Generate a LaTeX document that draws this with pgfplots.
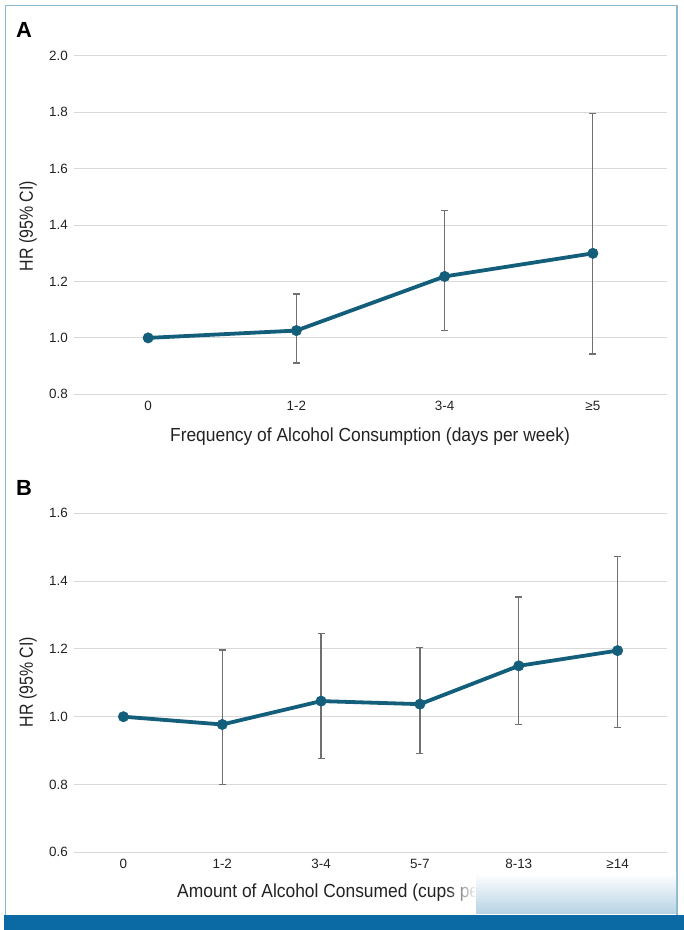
\documentclass[border=0pt]{standalone}
\usepackage{fontspec}
\setmainfont{Liberation Sans}
\newfontfamily\condfont{Liberation Sans}[FakeStretch=0.92]
\newfontfamily\ylabfont{Liberation Sans}[FakeStretch=0.84]
\usepackage{pgfplots}
\usepackage{pgfplotstable}
\pgfplotsset{compat=1.18}
\usetikzlibrary{fadings}

\definecolor{linec}{HTML}{135E7A}
\definecolor{errc}{HTML}{707070}
\definecolor{gridc}{HTML}{D9D9D9}
\definecolor{framec}{HTML}{8DB8CF}
\definecolor{barc}{HTML}{0B6AA3}
\definecolor{textc}{HTML}{222222}

% panel A: frequency (days per week)
\pgfplotstableread{
x y     lo    hi
0 1.000 1.000 1.000
1 1.026 0.911 1.156
2 1.218 1.025 1.451
3 1.300 0.943 1.797
}\freqdata

% panel B: amount (cups per week)
\pgfplotstableread{
x y     lo    hi
0 1.000 1.000 1.000
1 0.977 0.800 1.197
2 1.046 0.876 1.245
3 1.037 0.891 1.205
4 1.150 0.977 1.353
5 1.195 0.969 1.473
}\amountdata

\pgfplotsset{
  hrstyle/.style={
    scale only axis,
    width=593bp,
    axis line style={draw=none},
    tick style={draw=none},
    ymajorgrids,
    grid style={gridc, line width=1bp},
    ytick distance=0.2,
    yticklabel style={/pgf/number format/fixed, /pgf/number format/fixed zerofill,
      /pgf/number format/precision=1},
    /pgf/number format/assume math mode=true,
    ticklabel style={font=\fontsize{13.5}{15}\selectfont, text=textc, inner sep=0pt},
    yticklabel style={anchor=east, xshift=-6bp},
    xticklabel style={anchor=north, yshift=-7bp},
    xtick=data,
    clip=false,
  },
  errplot/.style={
    only marks, mark=none,
    error bars/.cd, y dir=both, y explicit,
    error mark=|,
    error bar style={errc, line width=1.2bp},
    error mark options={errc, line width=1.2bp, mark size=3.5bp},
  },
  hrline/.style={linec, line width=3.8bp, mark=*, mark size=5.2bp,
    mark options={fill=linec, draw=linec, line width=0.5bp}},
}

\begin{document}
\begin{tikzpicture}[x=1bp,y=1bp]
\useasboundingbox (0,0) rectangle (684,930);

% frame and footer bar
\draw[framec, line width=1.3bp] (5.5,15) -- (5.5,924.5) -- (677,924.5) -- (677,15);
\fill[barc] (4,0) rectangle (684,15);

% ---------- A ----------
\begin{axis}[hrstyle,
  at={(74bp,535.7bp)}, anchor=south west,
  height=338.3bp,
  xmin=-0.5, xmax=3.5,
  ymin=0.8, ymax=2.0,
  xticklabels={0,1-2,3-4,≥5},
]
\addplot[errplot] table[x=x, y=y,
  y error plus expr=\thisrow{hi}-\thisrow{y},
  y error minus expr=\thisrow{y}-\thisrow{lo}] {\freqdata};
\addplot[hrline] table[x=x, y=y] {\freqdata};
\end{axis}

\node[font=\bfseries\fontsize{22}{24}\selectfont] at (24,900) {A};
\node[rotate=90, font=\ylabfont\fontsize{19}{22}\selectfont, text=textc] at (28,930-226) {HR (95\% CI)};
\node[font=\condfont\fontsize{19}{22}\selectfont, text=textc] at (370,930-437) {Frequency of Alcohol Consumption (days per week)};

% ---------- B ----------
\begin{axis}[hrstyle,
  at={(74bp,77.7bp)}, anchor=south west,
  height=339bp,
  xmin=-0.5, xmax=5.5,
  ymin=0.6, ymax=1.6,
  xticklabels={0,1-2,3-4,5-7,8-13,≥14},
]
\addplot[errplot] table[x=x, y=y,
  y error plus expr=\thisrow{hi}-\thisrow{y},
  y error minus expr=\thisrow{y}-\thisrow{lo}] {\amountdata};
\addplot[hrline] table[x=x, y=y] {\amountdata};
\end{axis}

\node[font=\bfseries\fontsize{22}{24}\selectfont] at (24,930-488) {B};
\node[rotate=90, font=\ylabfont\fontsize{19}{22}\selectfont, text=textc] at (28,930-682) {HR (95\% CI)};
\node[font=\condfont\fontsize{19}{22}\selectfont, text=textc, anchor=west, inner sep=0pt] at (177,930-893) {Amount of Alcohol Consumed (cups per week)};

% faded overlay over the end of the lower label
\fill[white, path fading=west] (446,16) rectangle (476,57);
\shade[top color=white, bottom color=barc!30] (476,16) rectangle (676,57);
\end{tikzpicture}
\end{document}
